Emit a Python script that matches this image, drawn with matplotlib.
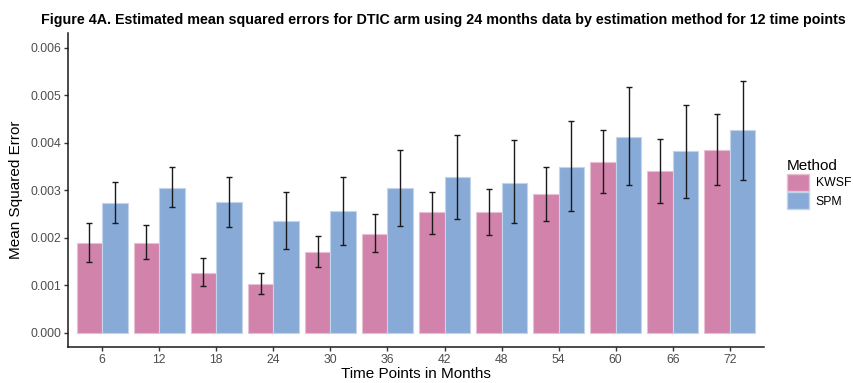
import numpy as np
import matplotlib.pyplot as plt
from matplotlib.patches import Patch

plt.rcParams['font.family'] = ['Liberation Sans', 'DejaVu Sans']

# ---- data ----
time_points = ['6', '12', '18', '24', '30', '36', '42', '48', '54', '60', '66', '72']
methods = ['KWSF', 'SPM']

kwsf_mse = [0.00190, 0.00190, 0.00127, 0.00104, 0.00171, 0.00209,
            0.00254, 0.00254, 0.00292, 0.00359, 0.00340, 0.00385]
kwsf_lo = [0.00150, 0.00155, 0.00098, 0.00081, 0.00139, 0.00171,
           0.00209, 0.00206, 0.00236, 0.00295, 0.00273, 0.00311]
kwsf_hi = [0.00231, 0.00228, 0.00158, 0.00127, 0.00205, 0.00250,
           0.00297, 0.00302, 0.00350, 0.00426, 0.00409, 0.00461]

spm_mse = [0.00273, 0.00306, 0.00275, 0.00236, 0.00257, 0.00304,
           0.00329, 0.00316, 0.00350, 0.00413, 0.00382, 0.00426]
spm_lo = [0.00231, 0.00265, 0.00222, 0.00176, 0.00186, 0.00224,
          0.00240, 0.00231, 0.00257, 0.00311, 0.00283, 0.00322]
spm_hi = [0.00317, 0.00349, 0.00328, 0.00296, 0.00328, 0.00384,
          0.00417, 0.00405, 0.00446, 0.00517, 0.00480, 0.00530]

colors = {'KWSF': '#D283AB', 'SPM': '#88AAD6'}
edges = {'KWSF': '#E8C0D4', 'SPM': '#C4D5EB'}

fig = plt.figure(figsize=(8.54, 3.83), dpi=100)
ax = fig.add_axes([68/854, 1-347/383, (764-68)/854, (347-33)/383])

x = np.arange(1, len(time_points)+1)
w = 0.45
series = [(kwsf_mse, kwsf_lo, kwsf_hi), (spm_mse, spm_lo, spm_hi)]
for i, (m, (vals, lo, hi)) in enumerate(zip(methods, series)):
    xs = x - w/2 + i*w
    vals = np.array(vals)
    err = [vals - np.array(lo), np.array(hi) - vals]
    ax.bar(xs, vals, width=w, color=colors[m], edgecolor=edges[m], linewidth=0.8, zorder=2)
    ax.errorbar(xs, vals, yerr=err, fmt='none', ecolor='#1a1a1a', elinewidth=1.0,
                capsize=2.5, capthick=1.0, zorder=3)

ax.set_xlim(0.4, 12.6)
ax.set_ylim(-0.000295, 0.00631)
ax.set_xticks(x)
ax.set_xticklabels(time_points)
ax.set_yticks(np.arange(0, 0.0061, 0.001))
ax.set_yticklabels(['%.3f' % v for v in np.arange(0, 0.0061, 0.001)])

for s in ['top', 'right']:
    ax.spines[s].set_visible(False)
for s in ['left', 'bottom']:
    ax.spines[s].set_linewidth(1.1)
    ax.spines[s].set_color('#1a1a1a')
ax.tick_params(axis='both', length=3, width=1.0, color='#333333',
               labelcolor='#4D4D4D', labelsize=8.8, pad=2)

ax.set_xlabel('Time Points in Months', fontsize=11, color='black', labelpad=1)
ax.set_ylabel('Mean Squared Error', fontsize=11, color='black', labelpad=5)

fig.text(443.5/854, 1-20/383, 'Figure 4A. Estimated mean squared errors for DTIC arm using 24 months data by estimation method for 12 time points',
         ha='center', va='center', fontsize=10.3, fontweight='bold')

handles = [Patch(facecolor=colors[m], edgecolor=edges[m]) for m in methods]
leg = fig.legend(handles, methods, title='Method', loc='upper left',
                 bbox_to_anchor=(778/854, 1-150/383), frameon=False,
                 fontsize=8.8, title_fontsize=11, handlelength=1.8, handleheight=1.75,
                 handletextpad=0.6, labelspacing=0.12, alignment='left',
                 borderaxespad=0.3)

fig.savefig('out.png', dpi=100)
